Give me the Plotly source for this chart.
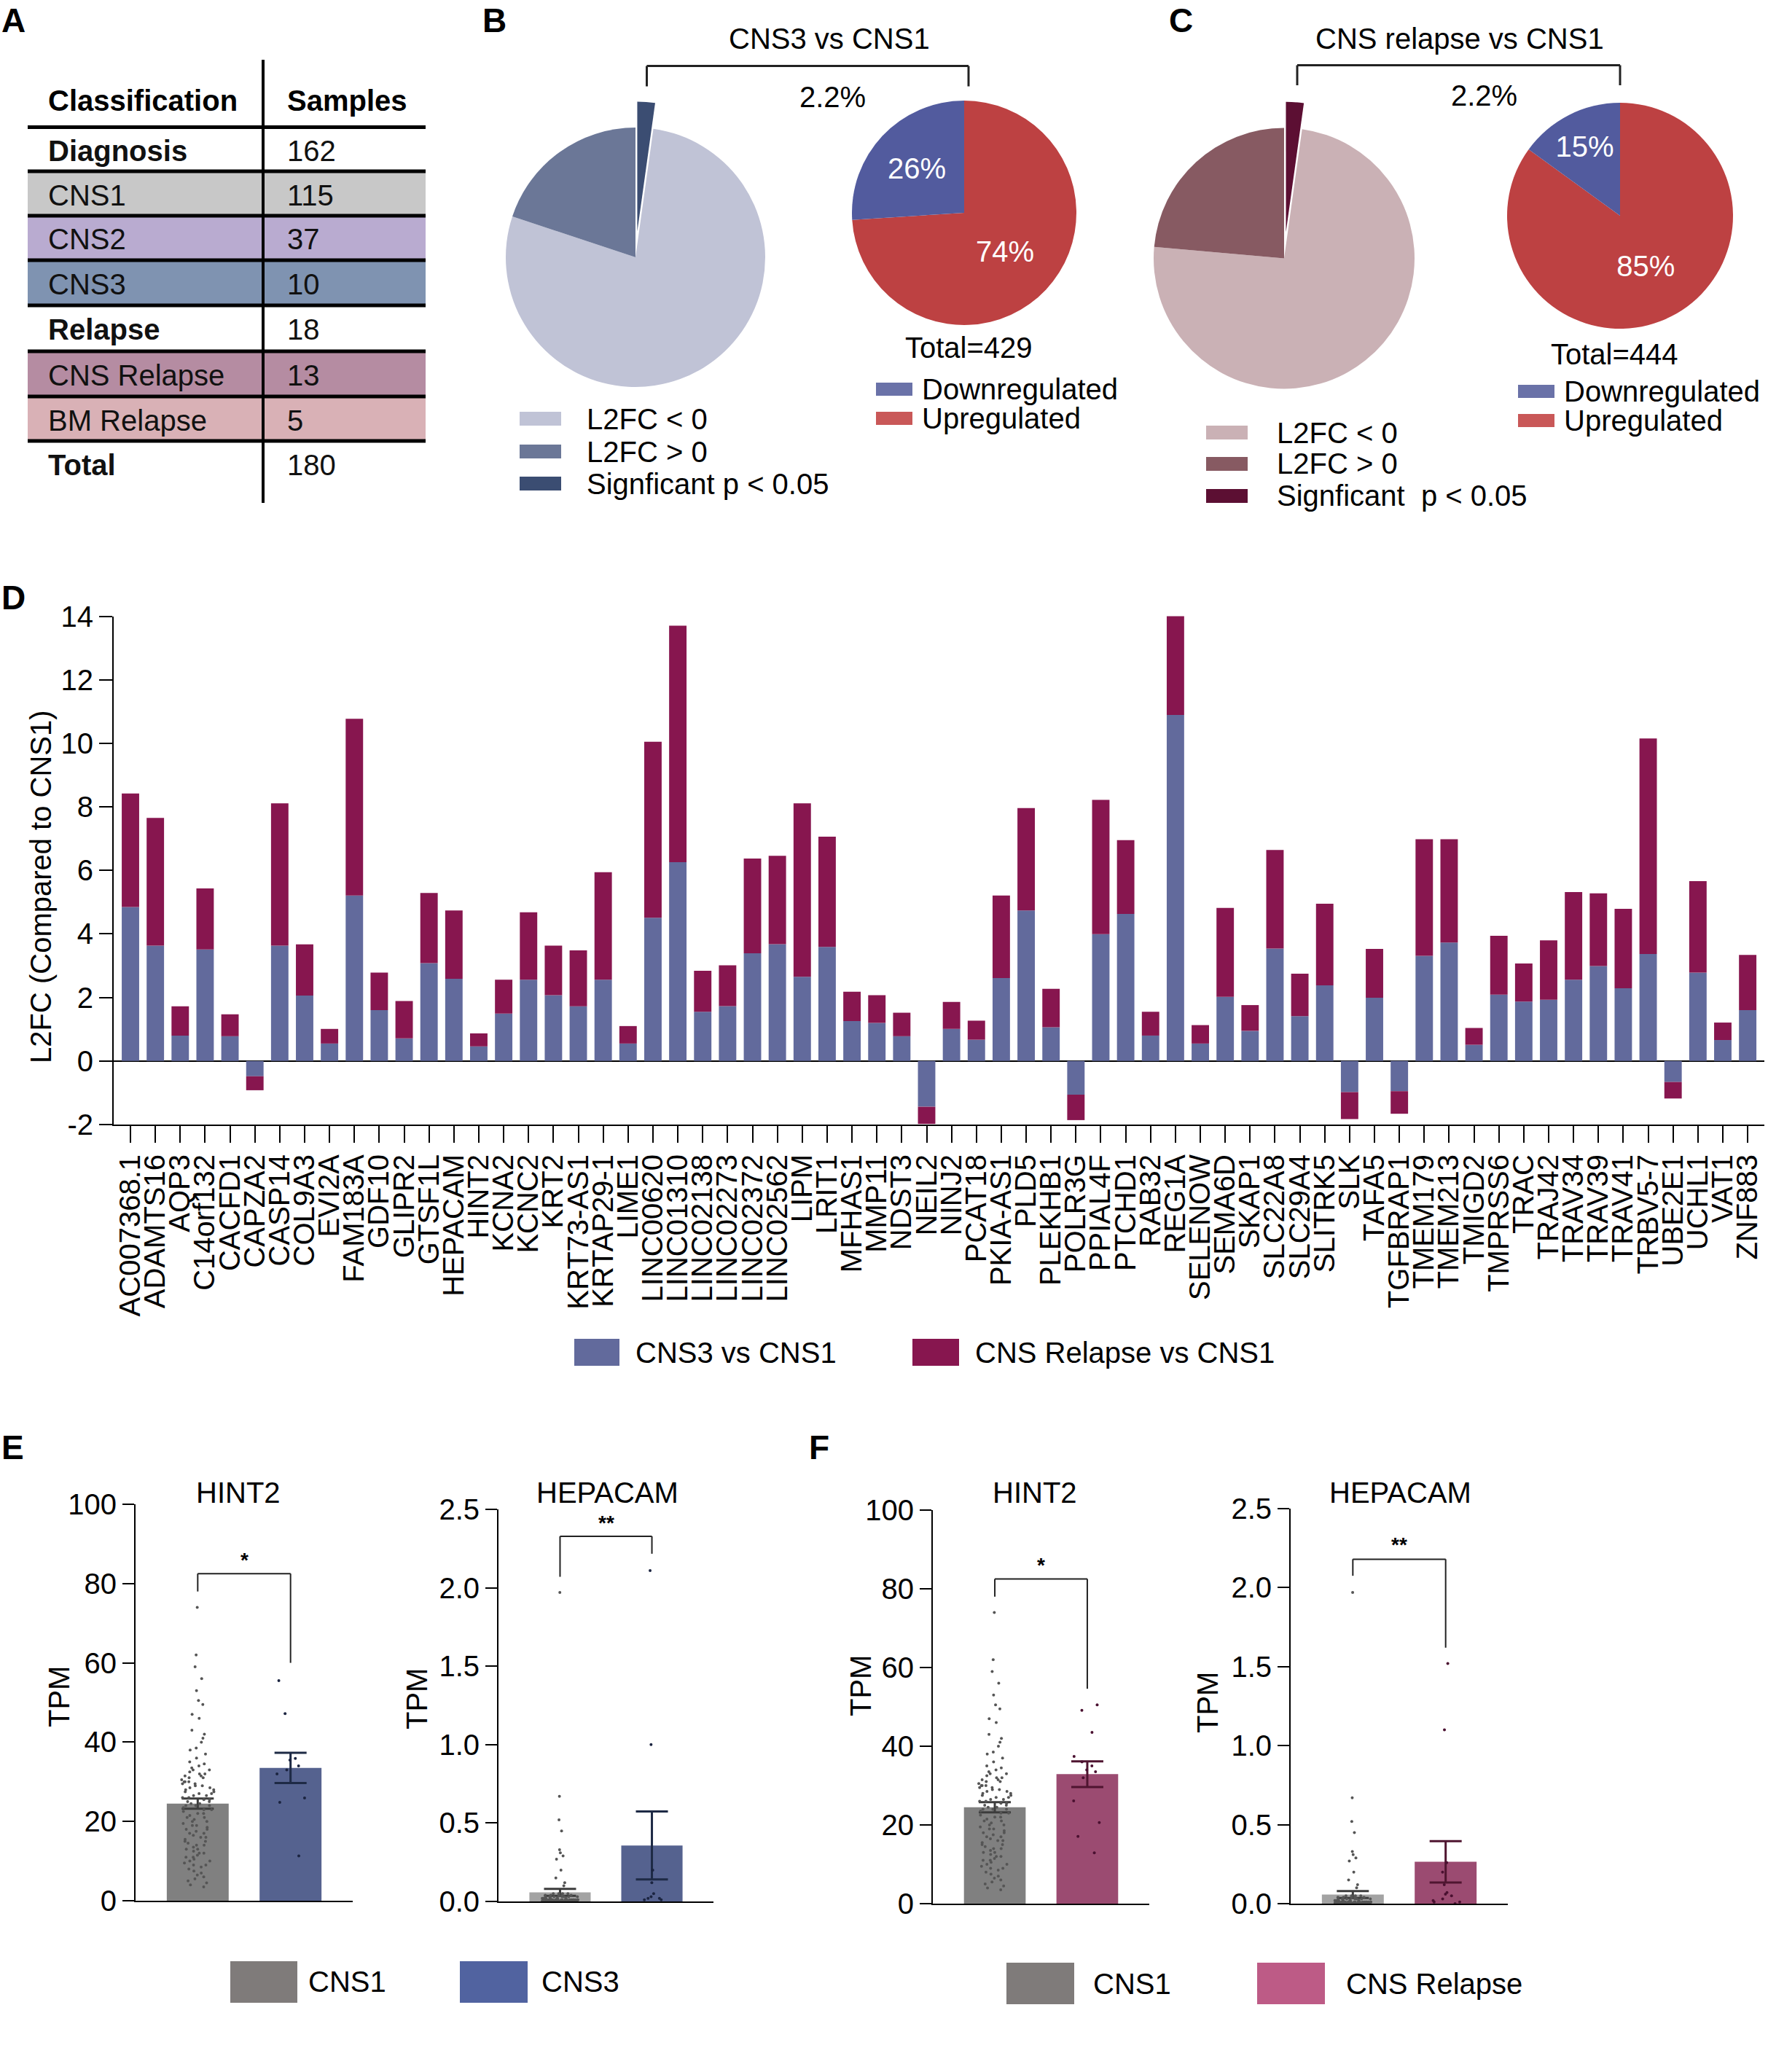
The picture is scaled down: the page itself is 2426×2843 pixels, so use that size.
import plotly.graph_objects as go

W, H = 2426, 2843
FONT = "Liberation Sans, Arial, sans-serif"

# ---------------- Panel A : table ----------------
table_header = ["Classification", "Samples"]
table_classes = ["Diagnosis", "CNS1", "CNS2", "CNS3", "Relapse", "CNS Relapse", "BM Relapse", "Total"]
table_samples = [162, 115, 37, 10, 18, 13, 5, 180]
table_bold = [True, False, False, False, True, False, False, True]
table_fill = [None, "#c8c8c8", "#b9abd0", "#7f93b1", None, "#b58ca2", "#d9b1b6", None]

# ---------------- Panels B / C : pies ----------------
pie_labels = ["L2FC < 0", "L2FC > 0", "Signficant p < 0.05"]
b_pie_values = [77.9, 19.9, 2.2]
c_pie_values = [74.2, 23.6, 2.2]
b_pie_colors = ["#c0c3d6", "#6b7797", "#3b4d72"]
c_pie_colors = ["#cab1b5", "#875a62", "#5c0f33"]
reg_labels = ["Downregulated", "Upregulated"]
reg_colors = ["#525b9e", "#bd4142"]
b_reg_values = [26, 74]
c_reg_values = [15, 85]
b_total = 429
c_total = 444
b_title = "CNS3 vs CNS1"
c_title = "CNS relapse vs CNS1"

# ---------------- Panel D : stacked bars ----------------
genes = ["AC007368.1", "ADAMTS16", "AQP3", "C14orf132", "CACFD1", "CAPZA2", "CASP14", "COL9A3",
         "EVI2A", "FAM183A", "GDF10", "GLIPR2", "GTSF1L", "HEPACAM", "HINT2", "KCNA2", "KCNC2",
         "KRT2", "KRT73-AS1", "KRTAP29-1", "LIME1", "LINC00620", "LINC01310", "LINC02138",
         "LINC02273", "LINC02372", "LINC02562", "LIPM", "LRIT1", "MFHAS1", "MMP11", "NDST3",
         "NEIL2", "NINJ2", "PCAT18", "PKIA-AS1", "PLD5", "PLEKHB1", "POLR3G", "PPIAL4F", "PTCHD1",
         "RAB32", "REG1A", "SELENOW", "SEMA6D", "SKAP1", "SLC22A8", "SLC29A4", "SLITRK5", "SLK",
         "TAFA5", "TGFBRAP1", "TMEM179", "TMEM213", "TMIGD2", "TMPRSS6", "TRAC", "TRAJ42",
         "TRAV34", "TRAV39", "TRAV41", "TRBV5-7", "UBE2E1", "UCHL1", "VAT1", "ZNF883"]
cns3_l2fc = [4.85, 3.63, 0.80, 3.51, 0.78, -0.48, 3.63, 2.06,
             0.55, 5.21, 1.60, 0.71, 3.08, 2.59, 0.46, 1.49, 2.56,
             2.07, 1.72, 2.56, 0.55, 4.51, 6.26, 1.55,
             1.73, 3.39, 3.68, 2.65, 3.59, 1.26, 1.20, 0.78,
             -1.44, 1.01, 0.67, 2.61, 4.74, 1.06, -1.06, 3.99, 4.63,
             0.80, 10.89, 0.55, 2.02, 0.95, 3.54, 1.41, 2.38, -0.98,
             1.99, -0.95, 3.31, 3.73, 0.51, 2.09, 1.87, 1.93,
             2.56, 2.99, 2.29, 3.37, -0.66, 2.78, 0.66, 1.60]
relapse_l2fc = [3.57, 4.02, 0.92, 1.92, 0.69, -0.44, 4.48, 1.61,
                0.46, 5.56, 1.18, 1.18, 2.21, 2.15, 0.41, 1.07, 2.12,
                1.56, 1.76, 3.38, 0.55, 5.54, 7.44, 1.29,
                1.28, 2.98, 2.78, 5.46, 3.47, 0.92, 0.87, 0.74,
                -0.54, 0.85, 0.60, 2.60, 3.22, 1.21, -0.80, 4.23, 2.32,
                0.75, 3.13, 0.58, 2.80, 0.81, 3.10, 1.34, 2.57, -0.85,
                1.54, -0.71, 3.67, 3.25, 0.53, 1.85, 1.20, 1.87,
                2.76, 2.29, 2.50, 6.78, -0.52, 2.88, 0.55, 1.74]
d_tickvals = [-2, 0, 2, 4, 6, 8, 10, 12, 14]
d_ticktext = ["-2", "0", "2", "4", "6", "8", "10", "12", "14"]
d_series = ["CNS3 vs CNS1", "CNS Relapse vs CNS1"]

# ---------------- Panels E / F : TPM ----------------
hint2_cns1_tpm = [74, 62, 59, 56, 53, 50.5, 49.5, 47, 46, 43, 42, 41, 40, 38.5, 38,
                  37, 36, 35, 34.5, 34, 33.5, 33, 32, 31.5, 31,
                  30, 29.5, 29, 28.5, 28, 27.5, 27, 26.5, 26, 25.5,
                  25, 24.5, 24, 24, 23.5, 23, 23, 22.5, 22, 22,
                  21.5, 21, 21, 20.5, 20, 20, 19.5, 19, 19, 18.5,
                  18, 18, 17.5, 17, 17, 16.5, 16, 16, 15.5, 15,
                  15, 14.5, 14, 14, 13.5, 13, 13, 12.5, 12, 12,
                  11.5, 11, 11, 10.5, 10, 10, 9.5, 9, 9, 8.5,
                  8, 7.5, 7, 6.5, 6, 5.5, 5, 4.5, 4, 3.5,
                  28, 29, 30, 31, 27, 26, 25, 24, 32, 33,
                  27.5, 28.5, 29.5, 30.5, 26.5, 25.5, 31.5, 32.5, 24.5, 30]
hint2_cns3_tpm = [55.5, 47.2, 35.9, 35.5, 34, 33, 32, 25.9, 24.8, 11.3]
hint2_relapse_tpm = [50.5, 49.1, 43.5, 37.4, 36, 35, 34, 33.5, 32, 26.1, 20.6, 17.1, 12.9]
hepacam_cns1_tpm = [1.97, 0.67, 0.52, 0.45, 0.33, 0.31, 0.29, 0.27, 0.2, 0.15, 0.12, 0.1,
                    0.05, 0.05, 0.05, 0.05, 0.04, 0.04, 0.04, 0.04, 0.04,
                    0.03, 0.03, 0.03, 0.03, 0.03, 0.03,
                    0.02, 0.02, 0.02, 0.02, 0.02, 0.02, 0.02, 0.02, 0.02, 0.02,
                    0.01, 0.01, 0.01, 0.01, 0.01, 0.01, 0.01, 0.01, 0.01, 0.01,
                    0.01, 0.01, 0.01, 0.01, 0.01, 0.01, 0.01, 0.01, 0.01, 0.01,
                    0.005, 0.005, 0.005, 0.005, 0.005, 0.005, 0.005, 0.005,
                    0.005, 0.005, 0.005, 0.005, 0.005, 0.005, 0.005, 0.005,
                    0, 0, 0, 0, 0, 0, 0, 0, 0, 0, 0, 0, 0, 0,
                    0, 0, 0, 0, 0, 0, 0, 0, 0, 0, 0, 0, 0, 0,
                    0, 0, 0, 0, 0, 0, 0, 0, 0, 0, 0, 0, 0, 0]
hepacam_cns3_tpm = [2.11, 1.0, 0.2, 0.12, 0.05, 0.03, 0.02, 0.02, 0.01, 0.01]
hepacam_relapse_tpm = [1.52, 1.1, 0.26, 0.2, 0.12, 0.07, 0.06, 0.05, 0.03, 0.02, 0.01, 0.01, 0.0]
hint2_mean = {"CNS1": 24.5, "CNS3": 33.5, "CNS Relapse": 32.9}
hint2_sem = {"CNS1": 1.3, "CNS3": 3.8, "CNS Relapse": 3.25}
hepacam_mean = {"CNS1": 0.058, "CNS3": 0.357, "CNS Relapse": 0.265}
hepacam_sem = {"CNS1": 0.022, "CNS3": 0.217, "CNS Relapse": 0.131}
hint2_ticks = [0, 20, 40, 60, 80, 100]
hepacam_ticks = [0, 0.5, 1.0, 1.5, 2.0, 2.5]

# ---------------- helpers ----------------
def X(p):
    return p / W


def Y(p):
    return 1 - p / H


annotations = []
shapes = []


def text(x, y, s, size=40, bold=False, xanchor="left", color="black", angle=0, yanchor="middle"):
    annotations.append(dict(x=X(x), y=Y(y), xref="paper", yref="paper",
                            text=("<b>%s</b>" % s if bold else s), showarrow=False,
                            xanchor=xanchor, yanchor=yanchor, textangle=angle,
                            font=dict(size=size, color=color, family=FONT)))


def rect(x0, y0, x1, y1, color, layer="above"):
    shapes.append(dict(type="rect", xref="paper", yref="paper", x0=X(x0), x1=X(x1),
                       y0=Y(y1), y1=Y(y0), fillcolor=color, line=dict(width=0), layer=layer))


def line(x0, y0, x1, y1, width=3, color="black"):
    shapes.append(dict(type="line", xref="paper", yref="paper", x0=X(x0), x1=X(x1),
                       y0=Y(y0), y1=Y(y1), line=dict(color=color, width=width)))


fig = go.Figure()

# ---------------- panel letters ----------------
for letter, lx, ly in [("A", 0, 28), ("B", 660, 28), ("C", 1602, 28), ("D", 0, 820), ("E", 0, 1986), ("F", 1108, 1986)]:
    text(lx, ly, letter, size=46, bold=True)

# ---------------- Panel A ----------------
row_lines = [174.5, 235, 296, 357, 419, 482, 544, 605, 668]
for i, fill in enumerate(table_fill):
    if fill:
        rect(38, row_lines[i], 584, row_lines[i + 1], fill, layer="below")
for yl in row_lines[:-1]:
    line(38, yl, 584, yl, width=5)
line(361, 82, 361, 690, width=4)
text(64, 138, table_header[0], bold=True)
text(392, 138, table_header[1], bold=True)
for i, (cl, n) in enumerate(zip(table_classes, table_samples)):
    yc = (row_lines[i] + row_lines[i + 1]) / 2 + 2
    text(64, yc, cl, bold=table_bold[i], color="#111")
    text(392, yc, str(n), color="#111")

# ---------------- Panels B / C ----------------
def big_pie(values, colors, cx, cy, r):
    pull = 0.2
    half = r * (1 + pull)
    fig.add_trace(go.Pie(values=values, labels=pie_labels, sort=False, direction="clockwise",
                         rotation=360 * values[2] / sum(values), pull=[0, 0, pull],
                         marker=dict(colors=colors, line=dict(width=0)), textinfo="none",
                         hoverinfo="label+percent", showlegend=False,
                         domain=dict(x=[X(cx - half), X(cx + half)], y=[Y(cy + half), Y(cy - half)])))


def small_pie(values, cx, cy, r):
    # drawn clockwise starting with "Upregulated" so that "Downregulated" sits left of 12 o'clock
    fig.add_trace(go.Pie(values=values[::-1], labels=reg_labels[::-1], sort=False, direction="clockwise",
                         rotation=0, marker=dict(colors=reg_colors[::-1], line=dict(width=0)),
                         texttemplate="%{value}%", textposition="inside",
                         insidetextorientation="horizontal",
                         textfont=dict(size=40, color="white", family=FONT), showlegend=False,
                         domain=dict(x=[X(cx - r), X(cx + r)], y=[Y(cy + r), Y(cy - r)])))


big_pie(b_pie_values, b_pie_colors, 872, 353, 178)
big_pie(c_pie_values, c_pie_colors, 1762, 354.5, 179)
small_pie(b_reg_values, 1323, 292, 154)
small_pie(c_reg_values, 2223, 296, 155)

# brackets and titles
for (x0, x1, yb, yleg, tx, title, px_, py_) in [(887.5, 1329, 90.5, 118.5, 1138, b_title, 1142, 133),
                                               (1780, 2223, 89.5, 117, 2003, c_title, 2036, 131)]:
    line(x0, yb, x1, yb, width=3, color="#222")
    line(x0, yb, x0, yleg, width=3, color="#222")
    line(x1, yb, x1, yleg, width=3, color="#222")
    text(tx, 53, title, xanchor="center")
    text(px_, py_, "%.1f%%" % b_pie_values[2], xanchor="center")

text(1329, 477, "Total=%d" % b_total, xanchor="center")
text(2215, 486, "Total=%d" % c_total, xanchor="center")

# legends B/C big pies
for (sx0, sx1, tx, ys, colors, labs) in [
        (713, 770, 803, [(565, 584), (610, 629), (654, 673)], b_pie_colors, pie_labels),
        (1655, 1712, 1750, [(584, 603), (627, 646), (671, 690)], c_pie_colors,
         ["L2FC < 0", "L2FC > 0", "Signficant&nbsp; p < 0.05"])]:
    for (y0, y1), col, lab in zip(ys, colors, labs):
        rect(sx0, y0, sx1, y1, col)
        text(tx, (y0 + y1) / 2, lab)

# legends small pies
for (sx0, sx1, tx, ys) in [(1202, 1252, 1263, [(525, 543), (565, 583)]),
                           (2083, 2133, 2144, [(528, 546), (568, 586)])]:
    for (y0, y1), col, lab in zip(ys, ["#6a72a8", "#c95858"], reg_labels):
        rect(sx0, y0, sx1, y1, col)
        text(tx, (y0 + y1) / 2, lab)

# ---------------- Panel D ----------------
D_BLUE = "#626a9c"
D_MAROON = "#87164f"
fig.add_trace(go.Bar(x=genes, y=cns3_l2fc, name=d_series[0], marker=dict(color=D_BLUE, line=dict(width=0)),
                     width=0.7, xaxis="x", yaxis="y", showlegend=False))
fig.add_trace(go.Bar(x=genes, y=relapse_l2fc, name=d_series[1], marker=dict(color=D_MAROON, line=dict(width=0)),
                     width=0.7, xaxis="x", yaxis="y", showlegend=False))
text(56, 1217, "L2FC (Compared to CNS1)", xanchor="center", angle=-90)
rect(788, 1837, 850, 1874, D_BLUE)
text(870, 1856, d_series[0])
rect(1252, 1837, 1316, 1874, D_MAROON)
text(1336, 1856, d_series[1])

# ---------------- Panels E / F ----------------
GRAY = "#808080"
GRAY_LIGHT = "#a3a3a3"
E_BLUE = "#55628f"
F_RED = "#9b4b71"

panels = [
    ("2", "CNS3", hint2_mean, hint2_sem, hint2_cns1_tpm, hint2_cns3_tpm, GRAY, E_BLUE, "#1e2a45", "#1b2440"),
    ("3", "CNS3", hepacam_mean, hepacam_sem, hepacam_cns1_tpm, hepacam_cns3_tpm, GRAY_LIGHT, E_BLUE, "#1e2a45", "#1b2440"),
    ("4", "CNS Relapse", hint2_mean, hint2_sem, hint2_cns1_tpm, hint2_relapse_tpm, GRAY, F_RED, "#4f1530", "#4a1030"),
    ("5", "CNS Relapse", hepacam_mean, hepacam_sem, hepacam_cns1_tpm, hepacam_relapse_tpm, GRAY_LIGHT, F_RED, "#4f1530", "#4a1030"),
]
for (ax, g2, means, sems, p1, p2, c1, c2, e2, d2) in panels:
    xa, ya = "x" + ax, "y" + ax
    fig.add_trace(go.Bar(x=["CNS1"], y=[means["CNS1"]], marker=dict(color=c1, line=dict(width=0)), width=0.667,
                         error_y=dict(type="data", array=[sems["CNS1"]], color="#3c3c3c", thickness=3, width=22),
                         xaxis=xa, yaxis=ya, showlegend=False))
    fig.add_trace(go.Bar(x=[g2], y=[means[g2]], marker=dict(color=c2, line=dict(width=0)), width=0.667,
                         error_y=dict(type="data", array=[sems[g2]], color=e2, thickness=3, width=22),
                         xaxis=xa, yaxis=ya, showlegend=False))
    for pts, grp, dc in [(p1, "CNS1", "#555555"), (p2, g2, d2)]:
        fig.add_trace(go.Box(y=pts, x0=grp, boxpoints="all", jitter=0.65, pointpos=0, width=0.6,
                             fillcolor="rgba(0,0,0,0)", line=dict(width=0, color="rgba(0,0,0,0)"),
                             whiskerwidth=0, marker=dict(size=4, color=dc),
                             xaxis=xa, yaxis=ya, showlegend=False, hoverinfo="y"))

for gx, tx, ty, gene in [(327, 81, 2328, "HINT2"), (833, 572, 2331, "HEPACAM"),
                         (1420, 1181, 2313, "HINT2"), (1921, 1657, 2336, "HEPACAM")]:
    text(gx, 2048, gene, xanchor="center")
    text(tx, ty, "TPM", xanchor="center", angle=-90)

brackets = [("2", 78, 82.5, 60, 86, "*"), ("3", 2.07, 2.328, 2.217, 2.415, "**"),
            ("4", 78, 82.5, 54.6, 86, "*"), ("5", 2.075, 2.18, 1.62, 2.27, "**")]
for ax, yl, yt, yr, ys, star in brackets:
    for (a0, b0, a1, b1) in [(0, yl, 0, yt), (0, yt, 1, yt), (1, yt, 1, yr)]:
        shapes.append(dict(type="line", xref="x" + ax, yref="y" + ax, x0=a0, y0=b0, x1=a1, y1=b1,
                           line=dict(color="#222", width=2)))
    annotations.append(dict(x=0.5, y=ys, xref="x" + ax, yref="y" + ax, text="<b>%s</b>" % star,
                            showarrow=False, font=dict(size=28, family=FONT, color="black"),
                            yanchor="middle"))

rect(316, 2691, 408, 2748, "#7f7b7a")
text(421, 2719, "CNS1")
rect(631, 2691, 724, 2748, "#5163a0")
text(741, 2719, "CNS3")
rect(1381, 2693, 1474, 2750, "#7f7b7a")
text(1498, 2722, "CNS1")
rect(1725, 2693, 1818, 2750, "#bd5b86")
text(1845, 2722, "CNS Relapse")

# ---------------- axes ----------------
tickfont = dict(size=40, color="black", family=FONT)
layout_axes = dict(
    xaxis=dict(domain=[X(156), X(2421)], range=[-0.674, 65.67], type="category", tickangle=-90,
               tickmode="array", tickvals=genes, ticktext=genes,
               tickfont=tickfont, ticks="outside", ticklen=23, tickwidth=2, tickcolor="black",
               showline=True, linecolor="black", linewidth=2, showgrid=False, zeroline=False, anchor="y"),
    yaxis=dict(domain=[Y(1543), Y(845.5)], range=[-2, 14], tickvals=d_tickvals, ticktext=d_ticktext,
               tickfont=tickfont, ticks="outside", ticklen=18, tickwidth=2, tickcolor="black",
               showline=True, linecolor="black", linewidth=2, showgrid=False,
               zeroline=True, zerolinecolor="black", zerolinewidth=2, anchor="x"),
)
ef_geom = {"2": (186, 484, 2608, 2064, [0, 100], hint2_ticks, "d"),
           "3": (684, 979, 2609, 2071, [0, 2.5], hepacam_ticks, ".1f"),
           "4": (1280, 1577, 2612, 2072, [0, 100], hint2_ticks, "d"),
           "5": (1771, 2069, 2612, 2070, [0, 2.5], hepacam_ticks, ".1f")}
for ax, (x0, x1, yb, yt, yr, tv, tf) in ef_geom.items():
    layout_axes["xaxis" + ax] = dict(domain=[X(x0), X(x1)], range=[-0.67, 1.67], type="category",
                                     showticklabels=False, ticks="", showline=True, linecolor="black",
                                     linewidth=2, showgrid=False, zeroline=False, anchor="y" + ax)
    layout_axes["yaxis" + ax] = dict(domain=[Y(yb), Y(yt)], range=yr, tickvals=tv, tickformat=tf,
                                     tickfont=tickfont, ticks="outside", ticklen=16, tickwidth=2,
                                     tickcolor="black", showline=True, linecolor="black", linewidth=2,
                                     showgrid=False, zeroline=False, anchor="x" + ax)

fig.update_layout(width=W, height=H, margin=dict(l=0, r=0, t=0, b=0, autoexpand=False),
                  paper_bgcolor="white", plot_bgcolor="white", barmode="relative",
                  boxmode="overlay", showlegend=False, font=dict(family=FONT, size=40, color="black"),
                  annotations=annotations, shapes=shapes, **layout_axes)

fig.write_html("out.html", config={"displayModeBar": False},
               post_script="document.documentElement.style.margin='0';"
                           "document.documentElement.style.overflow='hidden';"
                           "document.body.style.margin='0';document.body.style.overflow='hidden';")
